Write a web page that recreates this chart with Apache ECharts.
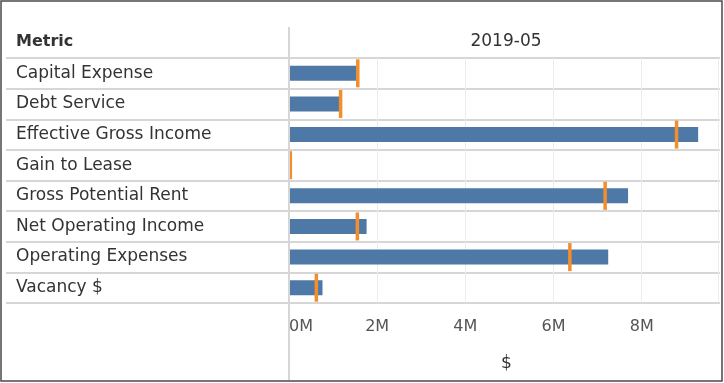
<!DOCTYPE html>
<html>
<head>
<meta charset="utf-8">
<script src="https://cdn.jsdelivr.net/npm/echarts@6/dist/echarts.min.js"></script>
<style>
html,body{margin:0;padding:0;background:#fff;}
#chart{width:724px;height:383px;}
</style>
</head>
<body>
<div id="chart"></div>
<script>
const categories = ['Capital Expense','Debt Service','Effective Gross Income','Gain to Lease','Gross Potential Rent','Net Operating Income','Operating Expenses','Vacancy $'];
const actualValues = [1530000, 1140000, 9280000, 0, 7690000, 1760000, 7240000, 760000];
const targetValues = [1560000, 1170000, 8790000, 30000, 7170000, 1550000, 6370000, 620000];
const tickValues = [0, 2000000, 4000000, 6000000, 8000000];
const columnTitle = '2019-05';
const rowHeader = 'Metric';
const measureName = '$';

const FONT = 'DejaVu Sans';
const chart = echarts.init(document.getElementById('chart'), null, {renderer:'canvas'});
const xMax = 9730000;

chart.setOption({
  animation: false,
  backgroundColor: '#fff',
  grid: [
    {left: 6, right: 4, top: 58, bottom: 80, containLabel: false},
    {left: 289, right: 6, top: 58, bottom: 80, containLabel: false}
  ],
  xAxis: [
    {gridIndex: 0, type: 'value', show: false, min: 0, max: 1},
    {
      gridIndex: 1, type: 'value', min: 0, max: xMax, interval: 2000000,
      name: measureName, nameLocation: 'middle', nameGap: 52,
      nameTextStyle: {fontFamily: FONT, fontSize: 17, color: '#333', padding: [0, 0, 0, 6]},
      axisLine: {show: false}, axisTick: {show: false},
      axisLabel: {
        fontFamily: FONT, fontSize: 16, color: '#555', margin: 16,
        alignMinLabel: 'left', showMaxLabel: false,
        formatter: v => tickValues.indexOf(v) >= 0 ? (v/1000000) + 'M' : ''
      },
      splitLine: {show: true, lineStyle: {color: '#ececec', width: 1}}
    }
  ],
  yAxis: [
    {
      gridIndex: 0, type: 'category', data: categories, inverse: true,
      axisLine: {show: false}, axisTick: {show: false},
      axisLabel: {inside: true, margin: 10, fontFamily: FONT, fontSize: 17, color: '#333'},
      splitLine: {show: true, lineStyle: {color: '#d6d6d6', width: 2}}
    },
    {
      gridIndex: 1, type: 'category', data: categories, inverse: true,
      axisLine: {show: false}, axisTick: {show: false}, axisLabel: {show: false},
      splitLine: {show: false}
    }
  ],
  series: [
    {
      type: 'bar', xAxisIndex: 1, yAxisIndex: 1, data: actualValues,
      barWidth: 15, itemStyle: {color: '#4e79a7'}, z: 2
    },
    {
      type: 'scatter', xAxisIndex: 1, yAxisIndex: 1, data: targetValues,
      symbol: 'rect', symbolSize: [3.5, 28], itemStyle: {color: '#f28e2b', opacity: 1}, z: 3
    }
  ],
  graphic: [
    {type: 'rect', shape: {x: 1, y: 1, width: 721, height: 380}, style: {fill: 'none', stroke: '#4a4a4a', lineWidth: 1.5}, z: 10},
    {type: 'line', shape: {x1: 289, y1: 27, x2: 289, y2: 380}, style: {stroke: '#d6d6d6', lineWidth: 2}, z: 5},
    {type: 'text', x: 16, y: 42, style: {text: rowHeader, font: 'bold 16px "DejaVu Sans"', fill: '#333', textVerticalAlign: 'middle'}},
    {type: 'text', x: 506, y: 42, style: {text: columnTitle, font: '17px "DejaVu Sans"', fill: '#333', textAlign: 'center', textVerticalAlign: 'middle'}}
  ]
});
</script>
</body>
</html>
